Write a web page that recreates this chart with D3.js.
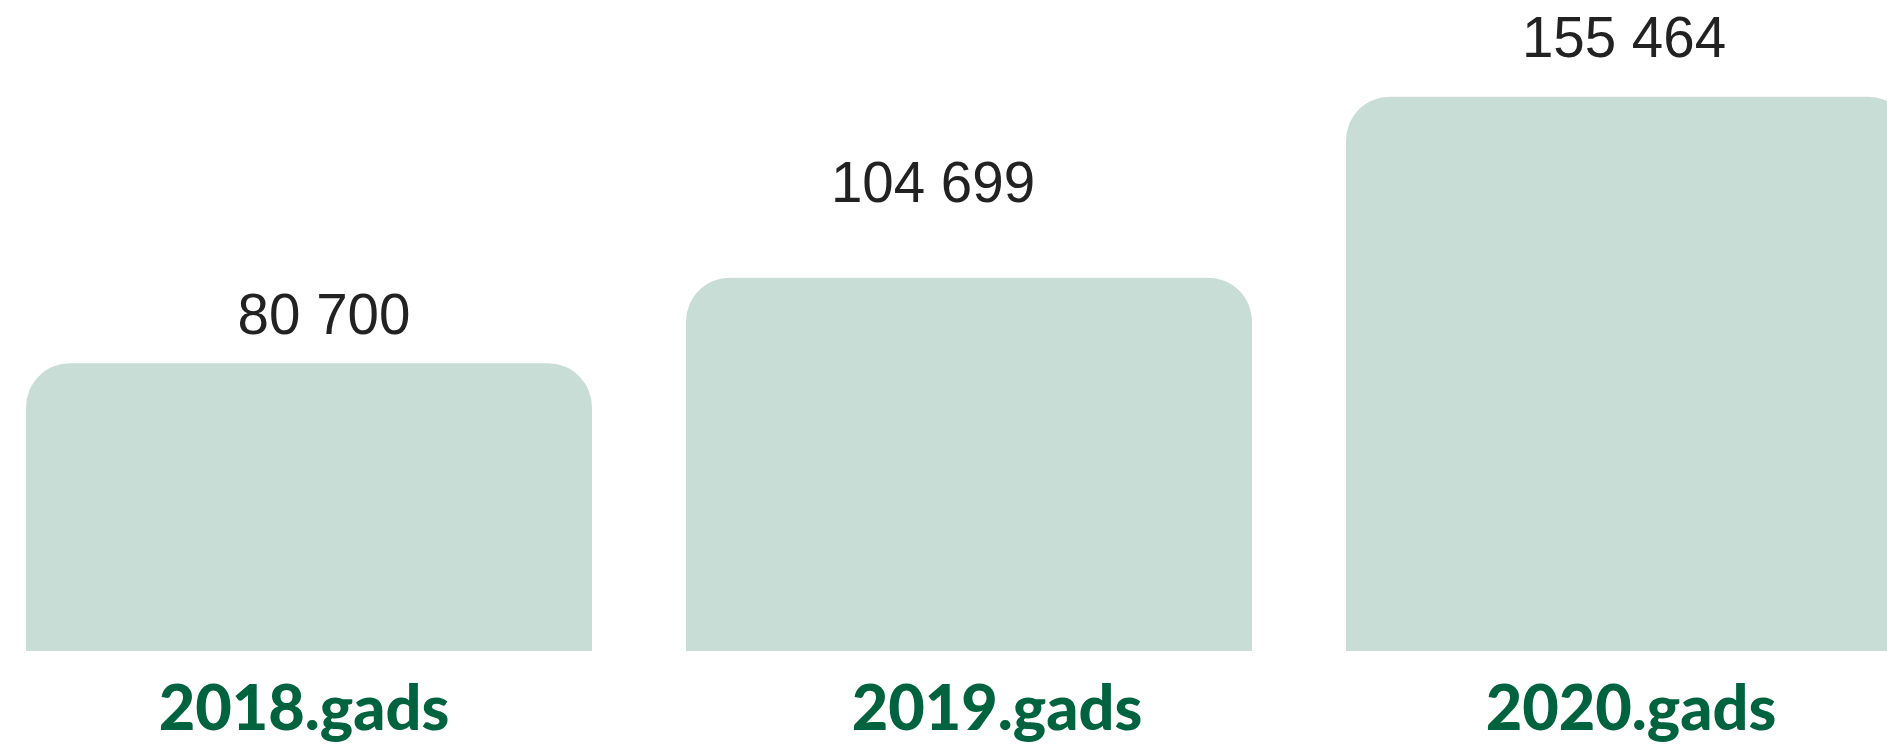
<!DOCTYPE html>
<html>
<head>
<meta charset="utf-8">
<script src="https://cdn.jsdelivr.net/npm/d3@7"></script>
<style>
  html, body { margin: 0; padding: 0; background: #ffffff; overflow: hidden; }
  #graphicContainer { width: 1887px; height: 746px; }
</style>
</head>
<body>
<div id="graphicContainer"></div>
<script>

const years = ["2018.gads", "2019.gads", "2020.gads"]
const values = [80700, 104699, 155464]
const valueLabels = ["80 700", "104 699", "155 464"]

// hand placed label tweaks (the original labels are not strictly centred)
const valueNudgeX = [15, -36, -5]
const valueGap = [29, 76, 40]
const yearNudgeX = [-5, 28, 2]

const width = 1887
const height = 746
const baseline = 651
const radius = 44

const svg = d3.select("#graphicContainer").append("svg")
  .attr("width", width)
  .attr("height", height)

const x = d3.scaleBand()
  .domain(years)
  .range([26, 26 + 3 * 660 - 94])
  .paddingInner(94 / 660)
  .paddingOuter(0)

const y = d3.scaleLinear()
  .domain([0, d3.max(values)])
  .range([baseline, 96.7])

const topRounded = (x0, y0, w, h, r) => {
  return `M${x0},${y0 + h}` +
    `V${y0 + r}` +
    `A${r},${r} 0 0 1 ${x0 + r},${y0}` +
    `H${x0 + w - r}` +
    `A${r},${r} 0 0 1 ${x0 + w},${y0 + r}` +
    `V${y0 + h}Z`
}

const data = years.map((year, i) => ({ year, value: values[i], label: valueLabels[i], i }))

svg.append("g")
  .selectAll("path")
  .data(data)
  .enter()
  .append("path")
  .attr("fill", "#c9ddd7")
  .attr("d", d => topRounded(x(d.year), y(d.value), x.bandwidth(), baseline - y(d.value), radius))

svg.append("g")
  .selectAll("text")
  .data(data)
  .enter()
  .append("text")
  .attr("text-anchor", "middle")
  .attr("x", d => x(d.year) + x.bandwidth() / 2 + valueNudgeX[d.i])
  .attr("y", d => y(d.value) - valueGap[d.i])
  .attr("fill", "#222222")
  .style("font-family", "'Liberation Sans', Arial, sans-serif")
  .style("font-size", "56.5px")
  .text(d => d.label)

svg.append("g")
  .selectAll("text")
  .data(data)
  .enter()
  .append("text")
  .attr("text-anchor", "middle")
  .attr("x", d => x(d.year) + x.bandwidth() / 2 + yearNudgeX[d.i])
  .attr("y", 730)
  .attr("fill", "#00633f")
  .style("font-family", "Lato, 'Open Sans', sans-serif")
  .style("font-weight", "900")
  .style("font-size", "63px")
  .text(d => d.year)

</script>
</body>
</html>
